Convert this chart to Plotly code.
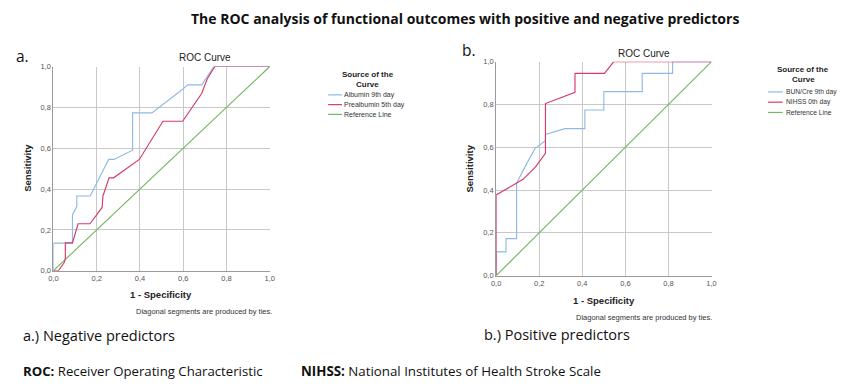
import plotly.graph_objects as go

W, H = 847, 391

# ---- data ----
a_alb_x = [0, 0, 0.088, 0.088, 0.108, 0.108, 0.17, 0.255, 0.28, 0.366, 0.366, 0.455, 0.597, 0.62, 0.685, 0.742, 1.0]
a_alb_y = [0, 0.135, 0.135, 0.274, 0.314, 0.366, 0.366, 0.545, 0.545, 0.59, 0.773, 0.773, 0.889, 0.91, 0.91, 1.0, 1.0]
a_pre_x = [0, 0.023, 0.05, 0.055, 0.055, 0.088, 0.114, 0.169, 0.225, 0.229, 0.257, 0.278, 0.397, 0.506, 0.597, 0.685, 0.711, 0.746, 1.0]
a_pre_y = [0, 0, 0.04, 0.06, 0.136, 0.136, 0.23, 0.23, 0.31, 0.366, 0.455, 0.455, 0.545, 0.732, 0.732, 0.868, 0.94, 1.0, 1.0]
b_bun_x = [0, 0, 0.046, 0.046, 0.095, 0.095, 0.137, 0.183, 0.19, 0.229, 0.229, 0.267, 0.32, 0.412, 0.412, 0.5, 0.5, 0.678, 0.678, 0.819, 0.819, 1.0]
b_bun_y = [0, 0.111, 0.111, 0.173, 0.173, 0.432, 0.514, 0.599, 0.6, 0.632, 0.66, 0.672, 0.687, 0.687, 0.774, 0.774, 0.86, 0.86, 0.945, 0.945, 1.0, 1.0]
b_nih_x = [0, 0, 0.03, 0.095, 0.125, 0.183, 0.229, 0.229, 0.297, 0.366, 0.366, 0.503, 0.546, 1.0]
b_nih_y = [0, 0.377, 0.394, 0.435, 0.45, 0.508, 0.571, 0.804, 0.83, 0.857, 0.945, 0.945, 1.0, 1.0]
ref_x = [0, 1]
ref_y = [0, 1]
tick_vals = [0, 0.2, 0.4, 0.6, 0.8, 1.0]
tick_text = ["0,0", "0,2", "0,4", "0,6", "0,8", "1,0"]
legend_a = ["Albumin 9th day", "Prealbumin 5th day", "Reference Line"]
legend_b = ["BUN/Cre 9th day", "NIHSS 0th day", "Reference Line"]

BLUE = "#8FB9E6"
RED = "#D63A66"
GREEN = "#74B862"
GRID = "#C8C8C8"
CHART_FONT = "Liberation Sans, Arial, sans-serif"
TEXT_FONT = "Open Sans, Noto Sans, sans-serif"

def px(x):
    return x / W

def py(y):
    return 1 - y / H

fig = go.Figure()

def add(x, y, color, xa, ya, name):
    fig.add_trace(go.Scatter(x=x, y=y, mode="lines", line=dict(color=color, width=1.15),
                             xaxis=xa, yaxis=ya, name=name, showlegend=False, hoverinfo="skip"))

add(ref_x, ref_y, GREEN, "x", "y", legend_a[2])
add(a_alb_x, a_alb_y, BLUE, "x", "y", legend_a[0])
add(a_pre_x, a_pre_y, RED, "x", "y", legend_a[1])
add(ref_x, ref_y, GREEN, "x2", "y2", legend_b[2])
add(b_bun_x, b_bun_y, BLUE, "x2", "y2", legend_b[0])
add(b_nih_x, b_nih_y, RED, "x2", "y2", legend_b[1])

axis_common = dict(range=[0, 1], tickvals=tick_vals, ticktext=tick_text, showgrid=True,
                   gridcolor=GRID, gridwidth=1, zeroline=False, showline=True, linecolor="#9A9A9A",
                   linewidth=1, ticks="", tickfont=dict(family=CHART_FONT, size=7.5, color="#555"),
                   fixedrange=True)

fig.update_layout(
    width=W, height=H, margin=dict(l=0, r=0, t=0, b=0),
    paper_bgcolor="white", plot_bgcolor="white", showlegend=False,
    xaxis=dict(domain=[px(49), px(268)], anchor="y", **axis_common),
    yaxis=dict(domain=[py(273), py(64)], anchor="x", **axis_common),
    xaxis2=dict(domain=[px(497), px(715)], anchor="y2", **axis_common),
    yaxis2=dict(domain=[py(278), py(59)], anchor="x2", **axis_common),
)

ann = []
def text(x, y, s, size, family=CHART_FONT, bold=False, color="#222", xanchor="center", angle=0):
    if bold:
        s = "<b>" + s + "</b>"
    ann.append(dict(x=px(x), y=py(y), xref="paper", yref="paper", text=s, showarrow=False,
                    font=dict(family=family, size=size, color=color), xanchor=xanchor,
                    yanchor="middle", textangle=angle, borderpad=0))

text(465, 15, "The ROC analysis of functional outcomes with positive and negative predictors", 14, TEXT_FONT, True, "#111")
text(10, 53, "a.", 15.5, TEXT_FONT, False, "#111", "left")
text(461, 47, "b.", 15.5, TEXT_FONT, False, "#111", "left")
text(202, 55, "ROC Curve", 10)
text(647, 51, "ROC Curve", 10)
text(22, 168, "Sensitivity", 9.5, bold=True, angle=-90)
text(470, 168, "Sensitivity", 9.5, bold=True, angle=-90)
text(158, 297, "1 - Specificity", 9.5, bold=True)
text(606, 303, "1 - Specificity", 9.5, bold=True)
text(201, 315, "Diagonal segments are produced by ties.", 7.5, color="#333")
text(647, 321, "Diagonal segments are produced by ties.", 7.5, color="#333")
text(17, 339, "a.) Negative predictors", 14.5, TEXT_FONT, False, "#111", "left")
text(484, 338, "b.) Positive predictors", 14.5, TEXT_FONT, False, "#111", "left")
text(17, 376, "<b>ROC:</b> Receiver Operating Characteristic", 13.2, TEXT_FONT, False, "#111", "left")
text(299, 376, "<b>NIHSS:</b> National Institutes of Health Stroke Scale", 13.3, TEXT_FONT, False, "#111", "left")

# legends
text(367, 72, "Source of the", 8, bold=True)
text(367, 82, "Curve", 8, bold=True)
text(808, 67, "Source of the", 8, bold=True)
text(808, 77, "Curve", 8, bold=True)

shapes = []
for i, (lab, col) in enumerate(zip(legend_a, [BLUE, RED, GREEN])):
    yy = 93 + 10 * i
    shapes.append(dict(type="line", xref="paper", yref="paper", x0=px(327), x1=px(341), y0=py(yy), y1=py(yy),
                       line=dict(color=col, width=1.2)))
    text(342, yy, lab, 7, color="#333", xanchor="left")
for i, (lab, col) in enumerate(zip(legend_b, [BLUE, RED, GREEN])):
    yy = 90 + 10.5 * i
    shapes.append(dict(type="line", xref="paper", yref="paper", x0=px(772), x1=px(787), y0=py(yy), y1=py(yy),
                       line=dict(color=col, width=1.2)))
    text(789, yy, lab, 6.7, color="#333", xanchor="left")

fig.update_layout(annotations=ann, shapes=shapes)
fig.write_html("out.html", config={"displayModeBar": False},
               post_script="document.body.style.margin='0';document.body.style.overflow='hidden';")
